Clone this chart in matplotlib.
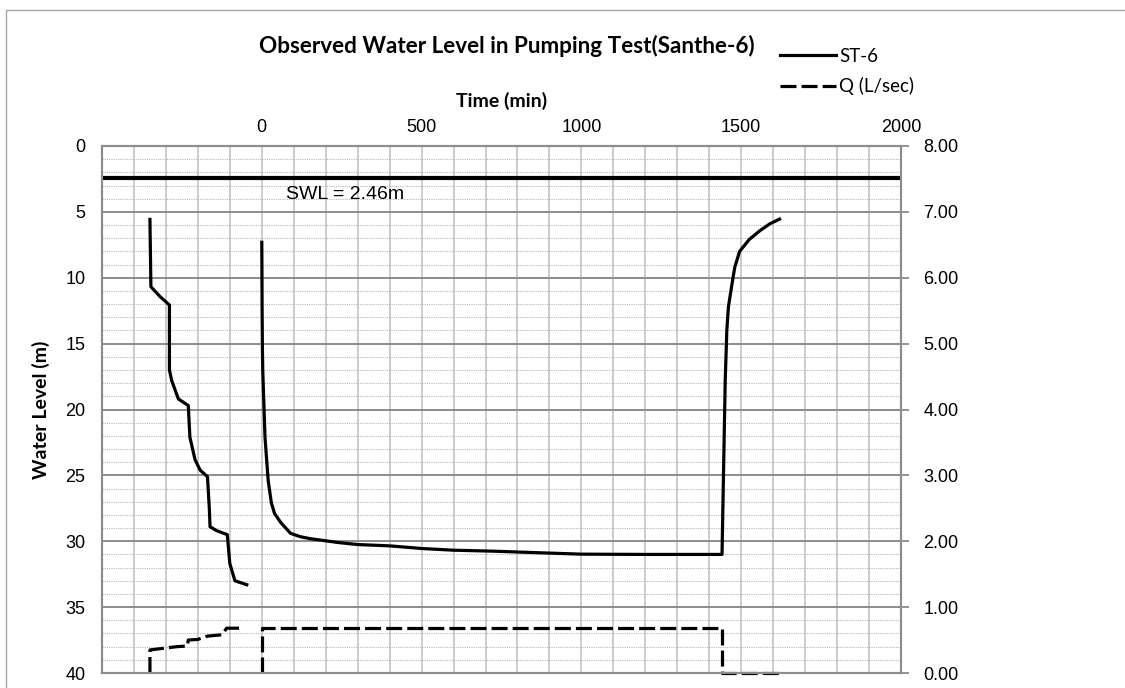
import numpy as np
import matplotlib
matplotlib.use('Agg')
import matplotlib.pyplot as plt
from matplotlib.lines import Line2D
from matplotlib.ticker import MultipleLocator, FixedLocator

plt.rcParams['font.family'] = ['Liberation Sans', 'DejaVu Sans']

# drawdown series (min, m below ground)
time_min = [0, 1, 2, 3, 5, 10, 20, 30, 40, 60, 90, 120, 150, 210, 240, 300, 400,
            500, 600, 720, 840, 1000, 1200, 1440, 1450, 1455, 1460, 1475, 1480,
            1495, 1525, 1560, 1590, 1620]
level_m = [7.31, 12.5, 15.5, 17.0, 18.5, 22.1, 25.4, 27.1, 27.9, 28.6, 29.4, 29.65,
           29.8, 30.0, 30.1, 30.25, 30.35, 30.55, 30.68, 30.75, 30.85, 30.98, 31.0,
           31.0, 17.8, 14.0, 12.2, 9.9, 9.2, 8.0, 7.1, 6.4, 5.9, 5.55]

# earlier record plotted at negative time
pre_time = [-350, -347, -318, -289, -289, -282, -261, -230, -225, -209, -193,
            -170, -164, -162, -141, -108, -100, -84, -47]
pre_level = [5.57, 10.68, 11.44, 12.07, 17.0, 17.8, 19.2, 19.7, 22.1, 23.8, 24.6,
             25.1, 27.6, 28.9, 29.2, 29.5, 31.7, 33.0, 33.3]

# discharge (L/sec)
q_time = [0, 0, 1440, 1440, 1620]
q_rate = [0, 0.68, 0.68, 0, 0]
pre_q_time = [-350, -350, -300, -265, -233, -230, -200, -170, -125, -110, -58]
pre_q_rate = [0, 0.35, 0.38, 0.40, 0.41, 0.50, 0.51, 0.56, 0.58, 0.68, 0.68]

swl = 2.46

W, H = 1125, 688
fig = plt.figure(figsize=(W / 100, H / 100), dpi=100)
ax = fig.add_axes([102 / W, 1 - 673 / H, (901 - 102) / W, (673 - 146) / H])
ax2 = ax.twinx()

grey = '#8c8c8c'

# water level axis
ax.set_xlim(-500, 2000)
ax.set_ylim(40, 0)
ax.xaxis.tick_top()
ax.xaxis.set_label_position('top')
ax.xaxis.set_major_locator(FixedLocator([0, 500, 1000, 1500, 2000]))
ax.xaxis.set_minor_locator(MultipleLocator(100))
ax.yaxis.set_major_locator(MultipleLocator(5))
ax.yaxis.set_minor_locator(MultipleLocator(1))
ax.tick_params(axis='x', which='both', length=0, pad=7, labelsize=13, colors='black')
ax.tick_params(axis='y', which='both', length=0, pad=12, labelsize=13)
ax.grid(axis='x', which='both', color='#bfbfbf', lw=1.1)
ax.grid(axis='y', which='major', color='#8c8c8c', lw=1.4)
ax.grid(axis='y', which='minor', color='#b8b8b8', lw=0.8, ls=(0, (1, 1)))
ax.set_axisbelow(True)
for s in ax.spines.values():
    s.set_color(grey)
    s.set_linewidth(1.5)

ax.set_xlabel('Time (min)', family='Lato', fontweight='bold', fontsize=14, labelpad=9)
ax.set_ylabel('Water Level (m)', family='Lato', fontweight='bold', fontsize=14, labelpad=11)

ax.axhline(swl, color='black', lw=3.0, zorder=3)
ax.text(75, 3.7, 'SWL = 2.46m', fontsize=14, va='center', ha='left')

ln1, = ax.plot(time_min, level_m, color='black', lw=2.3, zorder=4)
ax.plot(pre_time, pre_level, color='black', lw=2.3, zorder=4)

# discharge axis
ax2.set_ylim(0, 8)
ax2.yaxis.set_major_locator(MultipleLocator(1))
ax2.yaxis.set_major_formatter('{x:.2f}')
ax2.tick_params(axis='y', length=6, width=1.3, color=grey, pad=10, labelsize=13)
for s in ax2.spines.values():
    s.set_color(grey)
    s.set_linewidth(1.5)

dash = (0, (5, 1.6))
ln2, = ax2.plot(q_time, q_rate, color='black', lw=2.3, ls=dash, clip_on=False)
ax2.plot(pre_q_time, pre_q_rate, color='black', lw=2.3, ls=dash, clip_on=False)

fig.text(507 / W, 1 - 46 / H, 'Observed Water Level in Pumping Test(Santhe-6)',
         family='Lato', fontweight='bold', fontsize=16.2, ha='center', va='center')

ax2.legend([ln1, ln2], ['ST-6', 'Q (L/sec)'], loc='upper left',
           bbox_to_anchor=(780 / W, 1 - 48 / H), bbox_transform=fig.transFigure,
           frameon=False, prop={'family': 'Lato', 'size': 13.5}, handlelength=3.0,
           handletextpad=0.15, borderpad=0, borderaxespad=0, labelspacing=0.65)

# chart frame
fig.add_artist(Line2D([6 / W, 6 / W, 1.0], [0.0, 1 - 10 / H, 1 - 10 / H],
                      transform=fig.transFigure, color='#a6a6a6', lw=1.0))

fig.savefig('out.png', dpi=100)
